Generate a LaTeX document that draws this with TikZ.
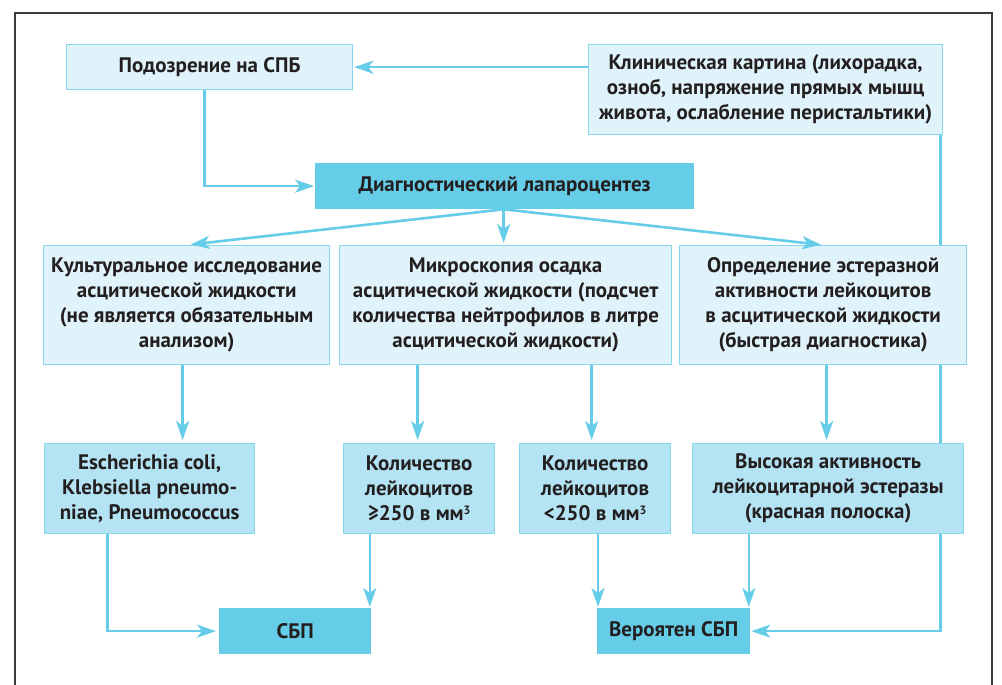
\documentclass[tikz,border=0pt]{standalone}
\usepackage{fontspec}
\setmainfont{PT Sans}
\usetikzlibrary{arrows.meta,calc,backgrounds}
\definecolor{lightfill}{HTML}{E1F3FA}
\definecolor{midfill}{HTML}{B4E4F3}
\definecolor{darkfill}{HTML}{66CDE8}
\definecolor{boxline}{HTML}{8AD6EE}
\definecolor{arrowc}{HTML}{66CDE8}
\definecolor{txt}{HTML}{231F20}
\definecolor{framec}{HTML}{3A3A3A}
\newcommand{\cubesup}{\raisebox{6pt}{\fontsize{12}{12}\selectfont 3}}
\tikzset{
  box/.style={draw=boxline, line width=1.3pt, inner sep=0pt, align=center, anchor=north west,
    text=txt, font=\fontsize{21}{25}\selectfont\bfseries},
  lightbox/.style={box, fill=lightfill},
  midbox/.style={box, fill=midfill},
  darkbox/.style={box, fill=darkfill, draw=darkfill},
  arr/.style={draw=arrowc, line width=2.6pt, -{Stealth[length=19pt,width=13pt,inset=5pt]}, shorten >=1pt},
  plain/.style={draw=arrowc, line width=2.6pt}
}
\begin{document}
\begin{tikzpicture}[x=1pt,y=-1pt]
\useasboundingbox (0,0) rectangle (1002,685);
\draw[framec, line width=1.5pt] (15,685) -- (15,13) -- (992,13) -- (992,685);

\node[lightbox, minimum width=286pt, minimum height=45pt] (susp) at (66,44) {Подозрение на СПБ};
\node[lightbox, minimum width=354pt, minimum height=90pt] (clin) at (588,44)
  {Клиническая картина (лихорадка,\\ озноб, напряжение прямых мышц\\ живота, ослабление перистальтики)};
\node[darkbox, minimum width=378pt, minimum height=45pt] (lap) at (315,163) {Диагностический лапароцентез};

\node[lightbox, minimum width=286pt, minimum height=119pt] (cult) at (43,245)
  {Культуральное исследование\\ асцитической жидкости\\ (не является обязательным\\ анализом)};
\node[lightbox, minimum width=332pt, minimum height=119pt] (micro) at (339,245)
  {Микроскопия осадка\\ асцитической жидкости (подсчет\\ количества нейтрофилов в литре\\ асцитической жидкости)};
\node[lightbox, minimum width=287pt, minimum height=119pt] (est) at (679,245)
  {Определение эстеразной\\ активности лейкоцитов\\ в асцитической жидкости\\ (быстрая диагностика)};

\node[midbox, minimum width=210pt, minimum height=90pt] (ecoli) at (44,443)
  {Escherichia coli,\\ Klebsiella pneumo-\\ niae, Pneumococcus};
\node[midbox, minimum width=151pt, minimum height=90pt] (ge) at (343,443)
  {Количество\\ лейкоцитов\\ ≥250 в мм\cubesup};
\node[midbox, minimum width=151pt, minimum height=90pt] (lt) at (519,443)
  {Количество\\ лейкоцитов\\ <250 в мм\cubesup};
\node[midbox, minimum width=271pt, minimum height=90pt] (high) at (692,443)
  {Высокая активность\\ лейкоцитарной эстеразы\\ (красная полоска)};

\node[darkbox, minimum width=151pt, minimum height=45pt] (sbp) at (219,608) {СБП};
\node[darkbox, minimum width=152pt, minimum height=45pt] (prob) at (597,608) {Вероятен СБП};

\begin{scope}[on background layer]
\draw[arr] ([xshift=-3pt]clin.south east) |- (prob.east);
\end{scope}

\draw[arr] (clin.west |- susp.east) -- (susp.east);
\draw[arr] ([xshift=-5pt]susp.south) |- (lap.west);
\draw[arr, shorten >=4pt] ([xshift=-1pt]lap.south) -- (cult.north);
\draw[arr, shorten >=2pt] ([xshift=-1pt]lap.south) -- ([xshift=-1pt]lap.south |- micro.north);
\draw[arr, shorten >=2pt] ([xshift=-1pt]lap.south) -- (est.north);

\draw[arr, shorten >=3pt] ([xshift=-4pt]cult.south) -- ([xshift=-4pt]cult.south |- ecoli.north);
\draw[arr, shorten >=3pt] ([xshift=-1.5pt]ge.north |- micro.south) -- ([xshift=-1.5pt]ge.north);
\draw[arr, shorten >=3pt] ([xshift=-3.5pt]lt.north |- micro.south) -- ([xshift=-3.5pt]lt.north);
\draw[arr, shorten >=3pt] ([xshift=-1.5pt]high.north |- est.south) -- ([xshift=-1.5pt]high.north);

\draw[arr, shorten >=3pt] ([xshift=-42pt]ecoli.south) |- (sbp.west);
\draw[arr] ([xshift=-1.5pt]sbp.north east |- ge.south) -- ([xshift=-1.5pt]sbp.north east);
\draw[arr] ([xshift=1pt]prob.north west |- lt.south) -- ([xshift=1pt]prob.north west);
\draw[arr] ([xshift=-1.5pt]prob.north east |- high.south) -- ([xshift=-1.5pt]prob.north east);
\end{tikzpicture}
\end{document}
